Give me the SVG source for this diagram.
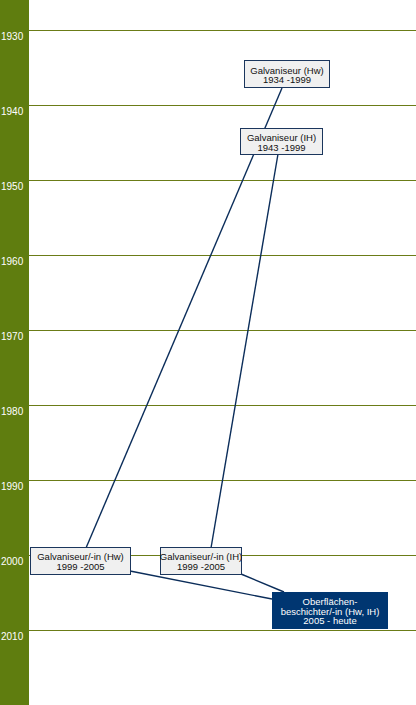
<svg xmlns="http://www.w3.org/2000/svg" width="416" height="705" viewBox="0 0 416 705">
<style>
.grid{stroke:#6b7c17;stroke-width:1}
.yr{font-family:"Liberation Sans",Arial,sans-serif;font-size:10px;fill:#ffffff}
.box{fill:#f0f0f0;stroke:#1b365d;stroke-width:1}
.boxd{fill:#003671;stroke:#003671;stroke-width:1}
.t{font-family:"Liberation Sans",Arial,sans-serif;font-size:9.5px;fill:#111111;text-anchor:middle}
.td{font-family:"Liberation Sans",Arial,sans-serif;font-size:9.5px;fill:#ffffff;text-anchor:middle}
.c{stroke:#0b2d5a;stroke-width:1.4;fill:none}
</style>
<rect x="0" y="0" width="416" height="705" fill="#ffffff"/>
<rect x="0" y="0" width="29" height="705" fill="#5f7d0f"/>
<g id="grid">
<line class="grid" x1="29" y1="30.5" x2="416" y2="30.5"/>
<line class="grid" x1="29" y1="105.5" x2="416" y2="105.5"/>
<line class="grid" x1="29" y1="180.5" x2="416" y2="180.5"/>
<line class="grid" x1="29" y1="255.5" x2="416" y2="255.5"/>
<line class="grid" x1="29" y1="330.5" x2="416" y2="330.5"/>
<line class="grid" x1="29" y1="405.5" x2="416" y2="405.5"/>
<line class="grid" x1="29" y1="480.5" x2="416" y2="480.5"/>
<line class="grid" x1="29" y1="555.5" x2="416" y2="555.5"/>
<line class="grid" x1="29" y1="630.5" x2="416" y2="630.5"/>
</g>
<g id="years">
<text class="yr" x="1" y="40">1930</text>
<text class="yr" x="1" y="115">1940</text>
<text class="yr" x="1" y="190">1950</text>
<text class="yr" x="1" y="265">1960</text>
<text class="yr" x="1" y="340">1970</text>
<text class="yr" x="1" y="415">1980</text>
<text class="yr" x="1" y="490">1990</text>
<text class="yr" x="1" y="565">2000</text>
<text class="yr" x="1" y="640">2010</text>
</g>
<g id="connectors">
<line class="c" x1="282" y1="88" x2="86" y2="548"/>
<line class="c" x1="278" y1="154" x2="211" y2="548"/>
<line class="c" x1="130" y1="571" x2="272" y2="599"/>
<line class="c" x1="241" y1="574" x2="284" y2="592"/>
</g>
<g id="n1">
<rect class="box" x="244.5" y="60.5" width="85" height="27"/>
<text class="t" x="287" y="73.5">Galvaniseur (Hw)</text>
<text class="t" x="287" y="83">1934 -1999</text>
</g>
<g id="n2">
<rect class="box" x="240.5" y="128.5" width="82" height="26"/>
<text class="t" x="281.5" y="141">Galvaniseur (IH)</text>
<text class="t" x="281.5" y="150.5">1943 -1999</text>
</g>
<g id="n3">
<rect class="box" x="30.5" y="547.5" width="100" height="27"/>
<text class="t" x="80.5" y="560">Galvaniseur/-in (Hw)</text>
<text class="t" x="80.5" y="569.5">1999 -2005</text>
</g>
<g id="n4">
<rect class="box" x="160.5" y="547.5" width="81" height="27"/>
<text class="t" x="201" y="560">Galvaniseur/-in (IH)</text>
<text class="t" x="201" y="569.5">1999 -2005</text>
</g>
<g id="n5">
<rect class="boxd" x="272.5" y="592.5" width="115" height="36"/>
<text class="td" x="330" y="605">Oberflächen-</text>
<text class="td" x="330" y="614.5">beschichter/-in (Hw, IH)</text>
<text class="td" x="330" y="624">2005 - heute</text>
</g>
</svg>
